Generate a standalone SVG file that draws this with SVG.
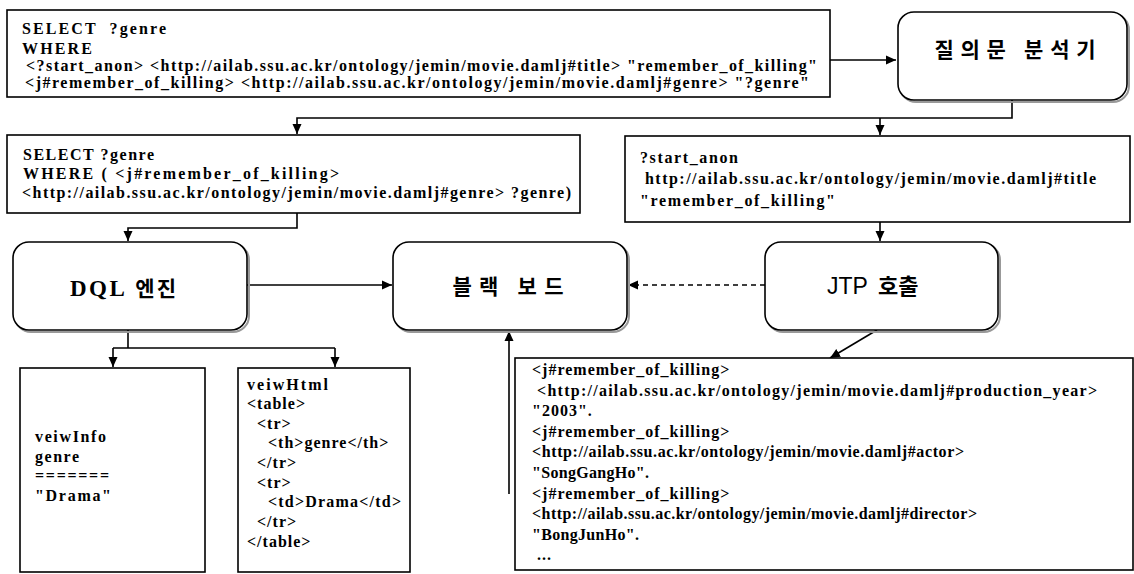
<svg xmlns="http://www.w3.org/2000/svg" width="1134" height="574" viewBox="0 0 1134 574">
<defs>
<style>
.bx{fill:#fff;stroke:#000;stroke-width:1.6}
.rb{fill:#fff;stroke:#000;stroke-width:1.6}
.sh{fill:none;stroke:#999;stroke-width:2}
.t{font-family:"Liberation Serif","Times New Roman",serif;font-weight:bold;font-size:16px;letter-spacing:1px;fill:#000}
.n{letter-spacing:0.3px}
.k{font-family:"Noto Sans CJK KR","Noto Sans",sans-serif;font-weight:bold;font-size:21px;fill:#000}
.c{fill:none;stroke:#000;stroke-width:1.6}
.d{fill:none;stroke:#000;stroke-width:1.4;stroke-dasharray:5,4}
</style>
<marker id="ah" viewBox="0 0 10 10" refX="10" refY="5" markerWidth="10" markerHeight="10" markerUnits="userSpaceOnUse" orient="auto">
<path d="M0,0.5 L10,5 L0,9.5 Z" fill="#000"/>
</marker>
</defs>

<g id="connectors">
<path class="c" d="M830,60 L896,60" marker-end="url(#ah)"/>
<path class="c" d="M1012,100 L1012,118 L297,118 L297,134" marker-end="url(#ah)"/>
<path class="c" d="M880,118 L880,135" marker-end="url(#ah)"/>
<path class="c" d="M297,213 L297,228 L128,228 L128,241" marker-end="url(#ah)"/>
<path class="c" d="M880,222 L880,241" marker-end="url(#ah)"/>
<path class="c" d="M247,285 L392,285" marker-end="url(#ah)"/>
<path class="d" d="M765,285 L628,285" marker-end="url(#ah)"/>
<path class="c" d="M128,330 L128,348"/>
<path class="c" d="M113,348 L335,348"/>
<path class="c" d="M113,348 L113,367" marker-end="url(#ah)"/>
<path class="c" d="M335,348 L335,367" marker-end="url(#ah)"/>
<path class="c" d="M877,330 L830,358" marker-end="url(#ah)"/>
<path class="c" d="M509,494 L509,331" marker-end="url(#ah)"/>
</g>

<g id="query">
<rect class="bx" x="7" y="10" width="823" height="87"/>
<text class="t" x="22" y="34" font-size="17" textLength="145" lengthAdjust="spacing" xml:space="preserve">SELECT  ?genre</text>
<text class="t" x="22" y="54" font-size="17" textLength="71" lengthAdjust="spacing">WHERE</text>
<text class="t" x="26" y="71" font-size="16.5" textLength="792" lengthAdjust="spacing">&lt;?start_anon&gt; &lt;http://ailab.ssu.ac.kr/ontology/jemin/movie.damlj#title&gt; "remember_of_killing"</text>
<text class="t" x="25" y="88" font-size="16.5" textLength="785" lengthAdjust="spacing">&lt;j#remember_of_killing&gt; &lt;http://ailab.ssu.ac.kr/ontology/jemin/movie.damlj#genre&gt; "?genre"</text>
</g>

<g id="analyzer">
<rect class="sh" x="900" y="14" width="229" height="88" rx="16"/>
<rect class="rb" x="898" y="12" width="229" height="88" rx="16"/>
<text class="k" x="1015" y="57" text-anchor="middle" textLength="161" lengthAdjust="spacing">질의문 분석기</text>
</g>

<g id="dql-query">
<rect class="bx" x="7" y="135" width="573" height="78"/>
<text class="t" x="23" y="160" font-size="16.5" textLength="132" lengthAdjust="spacing">SELECT ?genre</text>
<text class="t" x="23" y="179" font-size="16.5" textLength="317" lengthAdjust="spacing">WHERE ( &lt;j#remember_of_killing&gt;</text>
<text class="t" x="22" y="198" font-size="16.5" textLength="550" lengthAdjust="spacing">&lt;http://ailab.ssu.ac.kr/ontology/jemin/movie.damlj#genre&gt; ?genre)</text>
</g>

<g id="jtp-query">
<rect class="bx" x="625" y="136" width="505" height="86"/>
<text class="t" x="640" y="163" font-size="16.5" textLength="99" lengthAdjust="spacing">?start_anon</text>
<text class="t" x="645" y="184" font-size="16.5" textLength="452" lengthAdjust="spacing">http://ailab.ssu.ac.kr/ontology/jemin/movie.damlj#title</text>
<text class="t" x="640" y="206" font-size="16.5" textLength="196" lengthAdjust="spacing">"remember_of_killing"</text>
</g>

<g id="dql-engine">
<rect class="sh" x="15" y="244" width="234" height="88" rx="16"/>
<rect class="rb" x="13" y="242" width="234" height="88" rx="16"/>
<text x="70" y="296"><tspan font-family="Liberation Serif,serif" font-weight="bold" font-size="23" letter-spacing="2.5">DQL</tspan><tspan class="k" font-size="22" dx="8" letter-spacing="2">엔진</tspan></text>
</g>

<g id="blackboard">
<rect class="sh" x="395" y="244" width="234" height="88" rx="16"/>
<rect class="rb" x="393" y="242" width="234" height="88" rx="16"/>
<text class="k" x="508" y="294" text-anchor="middle" textLength="111" lengthAdjust="spacing">블랙 보드</text>
</g>

<g id="jtp">
<rect class="sh" x="767" y="244" width="233" height="88" rx="16"/>
<rect class="rb" x="765" y="242" width="233" height="88" rx="16"/>
<text x="827" y="294" font-family="Liberation Sans,Arial,sans-serif" font-size="23">JTP<tspan font-family="Noto Sans CJK KR,sans-serif" font-weight="bold" font-size="22" dx="10">호출</tspan></text>
</g>

<g id="viewinfo">
<rect class="bx" x="20" y="368" width="185" height="204"/>
<text class="t" x="35" y="442" textLength="72" lengthAdjust="spacing">veiwInfo</text>
<text class="t" x="35" y="462" textLength="45" lengthAdjust="spacing">genre</text>
<text class="t" x="35" y="481" textLength="75" lengthAdjust="spacing">=======</text>
<text class="t" x="35" y="501" textLength="77" lengthAdjust="spacing">"Drama"</text>
</g>

<g id="viewhtml">
<rect class="bx" x="238" y="368" width="172" height="204"/>
<text class="t" x="247" y="390" textLength="82" lengthAdjust="spacing">veiwHtml</text>
<text class="t" x="247" y="409">&lt;table&gt;</text>
<text class="t" x="257" y="429">&lt;tr&gt;</text>
<text class="t" x="268" y="448">&lt;th&gt;genre&lt;/th&gt;</text>
<text class="t" x="257" y="468">&lt;/tr&gt;</text>
<text class="t" x="257" y="488">&lt;tr&gt;</text>
<text class="t" x="268" y="507" textLength="134" lengthAdjust="spacing">&lt;td&gt;Drama&lt;/td&gt;</text>
<text class="t" x="257" y="527">&lt;/tr&gt;</text>
<text class="t" x="247" y="547">&lt;/table&gt;</text>
</g>

<g id="jtp-result">
<rect class="bx" x="515" y="358" width="618" height="212"/>
<text class="t" x="532" y="375">&lt;j#remember_of_killing&gt;</text>
<text class="t" x="537" y="396" textLength="561" lengthAdjust="spacing">&lt;http://ailab.ssu.ac.kr/ontology/jemin/movie.damlj#production_year&gt;</text>
<text class="t" x="532" y="416">"2003".</text>
<text class="t" x="532" y="437">&lt;j#remember_of_killing&gt;</text>
<text class="t" x="532" y="457" textLength="433" lengthAdjust="spacing">&lt;http://ailab.ssu.ac.kr/ontology/jemin/movie.damlj#actor&gt;</text>
<text class="t n" x="532" y="478">"SongGangHo".</text>
<text class="t" x="532" y="499">&lt;j#remember_of_killing&gt;</text>
<text class="t" x="532" y="519" textLength="446" lengthAdjust="spacing">&lt;http://ailab.ssu.ac.kr/ontology/jemin/movie.damlj#director&gt;</text>
<text class="t n" x="532" y="540">"BongJunHo".</text>
<text class="t" x="537" y="560">...</text>
</g>
</svg>
